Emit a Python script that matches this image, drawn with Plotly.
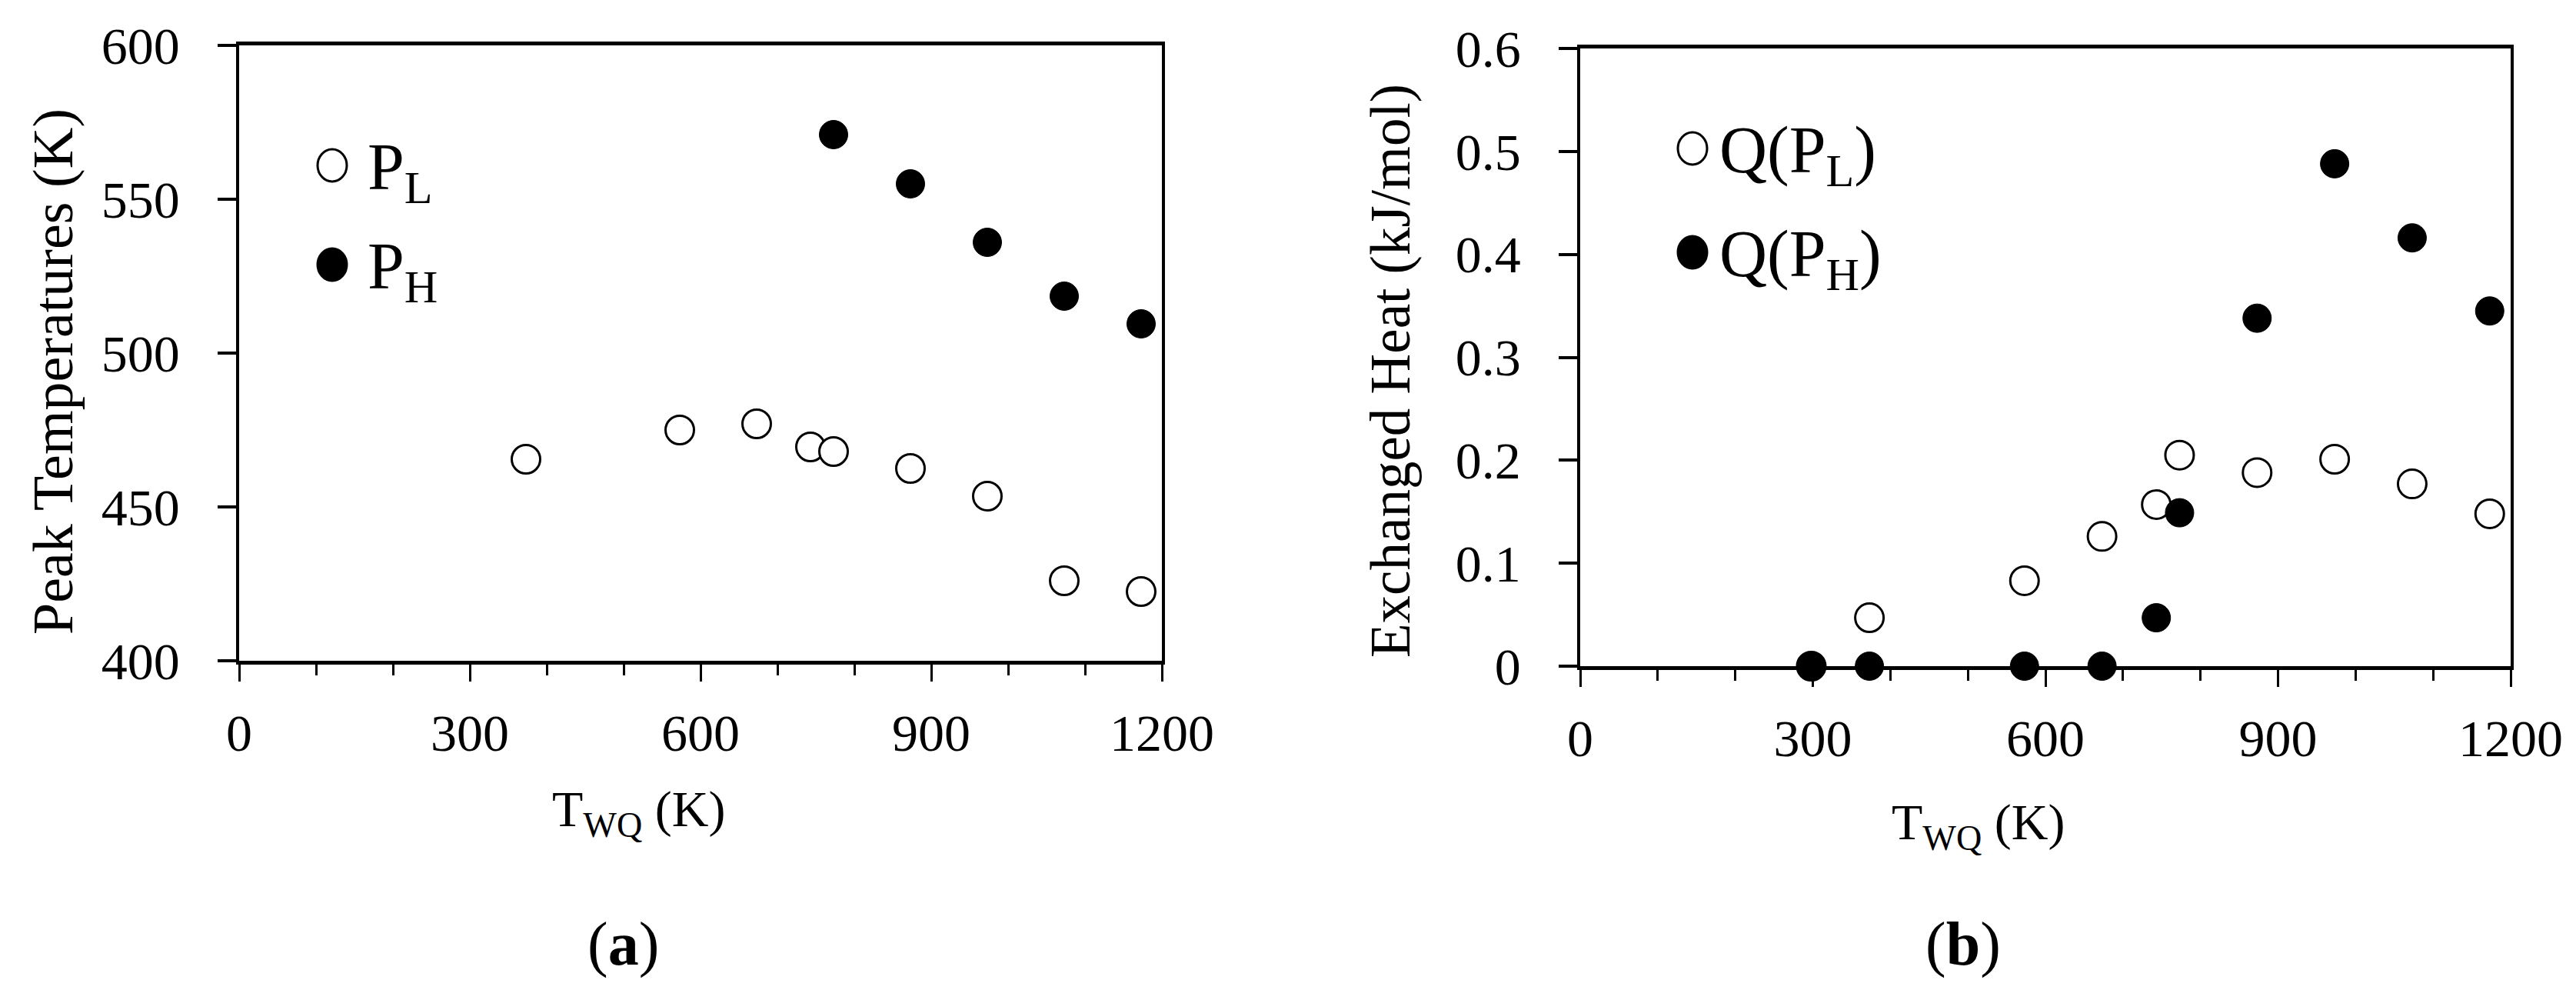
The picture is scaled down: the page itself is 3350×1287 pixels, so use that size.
import plotly.graph_objects as go

W, H = 3350, 1287
FONT = "Liberation Serif"

# (a) peak temperatures
t_low_a = [373, 573, 673, 743, 773, 873, 973, 1073, 1173]
peak_low = [465.5, 475, 477, 469.5, 468, 462.5, 453.5, 426, 422.5]
t_high_a = [773, 873, 973, 1073, 1173]
peak_high = [571, 555, 536, 518.5, 509.5]

# (b) exchanged heat
t_low_b = [298, 373, 573, 673, 743, 773, 873, 973, 1073, 1173]
heat_low = [0, 0.047, 0.083, 0.126, 0.157, 0.205, 0.188, 0.201, 0.177, 0.148]
t_high_b = [298, 373, 573, 673, 743, 773, 873, 973, 1073, 1173]
heat_high = [0, 0, 0, 0, 0.047, 0.149, 0.338, 0.488, 0.416, 0.345]

x_ticks = [0, 300, 600, 900, 1200]


def px(x):
    return x / W


def py(y):
    return 1 - y / H


open_marker = dict(symbol="circle", size=37, color="white", line=dict(color="black", width=3))
full_marker = dict(symbol="circle", size=37, color="black", line=dict(color="black", width=1))

fig = go.Figure()
fig.add_trace(go.Scatter(x=t_low_a, y=peak_low, mode="markers", marker=open_marker,
                         xaxis="x", yaxis="y", cliponaxis=False, showlegend=False))
fig.add_trace(go.Scatter(x=t_high_a, y=peak_high, mode="markers", marker=full_marker,
                         xaxis="x", yaxis="y", cliponaxis=False, showlegend=False))
fig.add_trace(go.Scatter(x=t_low_b, y=heat_low, mode="markers", marker=open_marker,
                         xaxis="x2", yaxis="y2", cliponaxis=False, showlegend=False))
fig.add_trace(go.Scatter(x=t_high_b, y=heat_high, mode="markers", marker=full_marker,
                         xaxis="x2", yaxis="y2", cliponaxis=False, showlegend=False))

xcommon = dict(range=[0, 1200], tickvals=x_ticks, ticks="outside", ticklen=22, tickwidth=3,
               tickcolor="black", showline=True, linewidth=5, linecolor="black", mirror=True,
               showgrid=False, zeroline=False, ticklabelstandoff=8, automargin=False,
               tickfont=dict(family=FONT, size=68, color="black"),
               minor=dict(dtick=100, tick0=0, ticks="outside", ticklen=14, tickwidth=3,
                          tickcolor="black", showgrid=False))
ycommon = dict(ticks="outside", ticklen=24, tickwidth=3.5, tickcolor="black", showline=True,
               linewidth=3.5, linecolor="black", mirror=True, showgrid=False, zeroline=False,
               ticklabelstandoff=36, automargin=False,
               tickfont=dict(family=FONT, size=68, color="black"))

fig.update_layout(
    template="none",
    width=W, height=H, margin=dict(l=0, r=0, t=0, b=0, pad=0, autoexpand=False),
    paper_bgcolor="white", plot_bgcolor="white", showlegend=False,
    xaxis=dict(domain=[px(303), px(1503)], anchor="y", **xcommon),
    yaxis=dict(domain=[py(851), py(51)], anchor="x", range=[400, 600], dtick=50, **ycommon),
    xaxis2=dict(domain=[px(2047), px(3257)], anchor="y2", **xcommon),
    yaxis2=dict(domain=[py(858), py(55)], anchor="x2", range=[0, 0.6], dtick=0.1, **ycommon),
)

# legend symbols drawn as shapes so they can be large
legend_items = [
    (424, 207, "white", "P<sub>L</sub>", 468),
    (424, 336, "black", "P<sub>H</sub>", 468),
    (2193, 185, "white", "Q(P<sub>L</sub>)", 2226),
    (2193, 320, "black", "Q(P<sub>H</sub>)", 2226),
]
for cx, cy, fill, label, tx in legend_items:
    fig.add_shape(type="circle", xref="paper", yref="paper", xsizemode="pixel", ysizemode="pixel",
                  xanchor=px(cx), yanchor=py(cy), x0=-19, x1=19, y0=-21, y1=21,
                  fillcolor=fill, line=dict(color="black", width=3))
    fig.add_annotation(x=px(tx), y=py(cy + 8), xref="paper", yref="paper", text=label,
                       showarrow=False, xanchor="left", yanchor="middle",
                       font=dict(family=FONT, size=86, color="black"))

texts = [
    (61, 475, "Peak Temperatures (K)", 74, -90),
    (1801, 474, "Exchanged Heat (kJ/mol)", 73, -90),
    (822, 1048, "T<sub>WQ</sub> (K)", 66, 0),
    (2564, 1065, "T<sub>WQ</sub> (K)", 66, 0),
    (802, 1219, "(<b>a</b>)", 80, 0),
    (2545, 1219, "(<b>b</b>)", 80, 0),
]
for x, y, s, size, ang in texts:
    fig.add_annotation(x=px(x), y=py(y), xref="paper", yref="paper", text=s, showarrow=False,
                       textangle=ang, xanchor="center", yanchor="middle",
                       font=dict(family=FONT, size=size, color="black"))

fig.write_html("out.html")
